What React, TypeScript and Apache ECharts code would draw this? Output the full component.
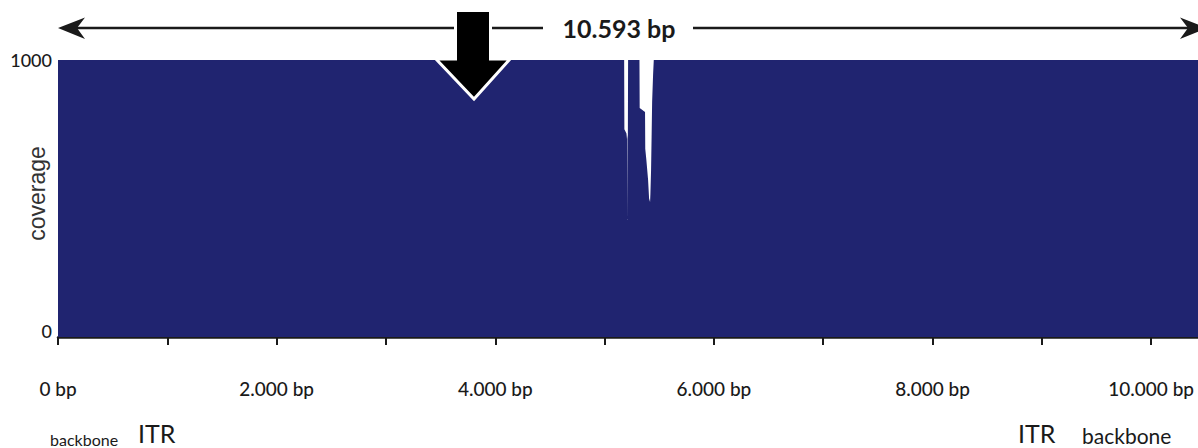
import React, { useEffect, useRef } from "react";
import * as echarts from "echarts";

// genome positions (bp) and read coverage (capped at 1000 in the display)
const positions = [
  0, 5179, 5181, 5200, 5205, 5207, 5209, 5213, 5215,
  5319, 5321, 5370, 5372, 5382, 5398, 5407, 5416, 5419, 5425, 5430, 5435, 5444, 5450,
  10593,
];
const coverage = [
  1000, 1000, 750, 735, 715, 422, 715, 730, 1000,
  1000, 827, 812, 680, 640, 567, 500, 487, 515, 600, 720, 850, 950, 1000,
  1000,
];
const genomeLength = 10593;
const yTicks = [0, 1000];
const titleText = "10.593 bp";
const leftLabels = ["backbone", "ITR"];
const rightLabels = ["ITR", "backbone"];

const NAVY = "#202470";
const INK = "#1a1a1a";

function fmtBp(v: number): string {
  return v.toString().replace(/\B(?=(\d{3})+(?!\d))/g, ".") + " bp";
}

export default function App() {
  const ref = useRef<HTMLDivElement>(null);
  useEffect(() => {
    document.body.style.margin = "0";
    if (!ref.current) return;
    const chart = echarts.init(ref.current, undefined, { renderer: "svg" });
    const data = positions.map((p, i) => [p, coverage[i]]);
    chart.setOption({
      animation: false,
      grid: { left: 58, right: -18, top: 60, bottom: 111, containLabel: false, outerBoundsMode: "none" },
      xAxis: {
        type: "value",
        min: 0,
        max: genomeLength,
        interval: 1000,
        offset: 18,
        axisLine: { show: true, lineStyle: { color: INK, width: 2.5 } },
        axisTick: { show: true, length: 8, lineStyle: { color: INK, width: 2 } },
        splitLine: { show: false },
        axisLabel: {
          margin: 24,
          fontFamily: "Lato",
          fontWeight: 500,
          fontSize: 19,
          color: INK,
          formatter: (v: number) => (v % 2000 === 0 ? fmtBp(v) : ""),
        },
      },
      yAxis: {
        type: "value",
        min: yTicks[0],
        max: yTicks[1],
        interval: 1000,
        name: "coverage",
        nameLocation: "middle",
        nameGap: 10,
        nameMoveOverlap: false,
        nameTextStyle: { fontFamily: "Liberation Sans", fontSize: 23, color: "#333", padding: [0, 0, 0, 10] },
        axisLine: { show: false },
        axisTick: { show: false },
        splitLine: { show: false },
        axisLabel: {
          margin: 6,
          formatter: (v: number) => (v === 0 ? "{b|0}" : "{a|" + v + "}"),
          rich: {
            a: { fontFamily: "Lato", fontWeight: 500, fontSize: 18, color: INK },
            b: { fontFamily: "Lato", fontWeight: 500, fontSize: 18, color: INK, padding: [0, 0, 12, 0] },
          },
        },
      },
      series: [
        {
          type: "line",
          data,
          symbol: "none",
          lineStyle: { width: 0 },
          areaStyle: { color: NAVY, opacity: 1 },
          z: 2,
        },
      ],
      graphic: [
        { type: "line", z: 100, shape: { x1: 75, y1: 28, x2: 543, y2: 28 }, style: { stroke: INK, lineWidth: 2.5 } },
        { type: "line", z: 100, shape: { x1: 693, y1: 28, x2: 1190, y2: 28 }, style: { stroke: INK, lineWidth: 2.5 } },
        {
          type: "polygon", z: 101,
          shape: { points: [[58, 28], [85, 17.5], [77, 28], [85, 39]] },
          style: { fill: INK },
        },
        {
          type: "polygon", z: 101,
          shape: { points: [[1207, 28], [1180, 17.5], [1188, 28], [1180, 39]] },
          style: { fill: INK },
        },
        {
          type: "text", z: 101, x: 619, y: 28,
          style: { text: titleText, font: "bold 25px Lato", fill: INK, align: "center", verticalAlign: "middle" },
        },
        {
          type: "polygon", z: 102,
          shape: { points: [[455.5, 10.5], [490.5, 10.5], [490.5, 59], [510, 59], [474, 99], [436, 59], [455.5, 59]] },
          style: { fill: "#000", stroke: "#fff", lineWidth: 3, lineJoin: "miter" },
        },
        {
          type: "text", z: 101, x: 50, y: 447,
          style: { text: leftLabels[0], font: "16px Lato", fill: INK, align: "left", verticalAlign: "bottom" },
        },
        {
          type: "text", z: 101, x: 138, y: 445,
          style: { text: leftLabels[1], font: "25px Lato", fill: INK, align: "left", verticalAlign: "bottom" },
        },
        {
          type: "text", z: 101, x: 1018, y: 445,
          style: { text: rightLabels[0], font: "25px Lato", fill: INK, align: "left", verticalAlign: "bottom" },
        },
        {
          type: "text", z: 101, x: 1082, y: 446,
          style: { text: rightLabels[1], font: "21px Lato", fill: INK, align: "left", verticalAlign: "bottom" },
        },
      ],
    });
    return () => chart.dispose();
  }, []);
  return <div ref={ref} style={{ width: 1198, height: 448, overflow: "hidden" }} />;
}
